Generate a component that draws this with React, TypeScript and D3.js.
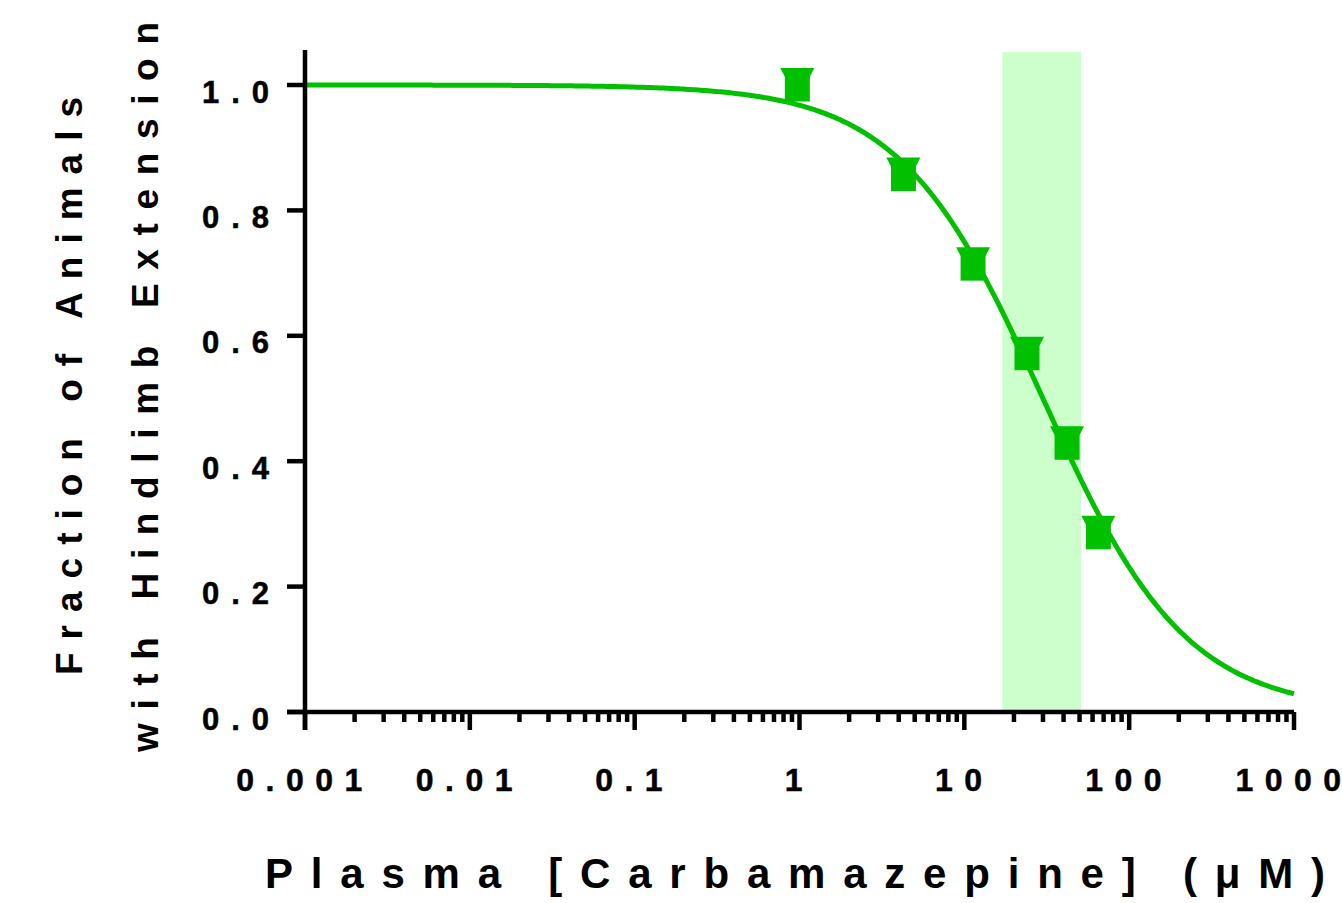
import React from "react";
import * as d3 from "d3";

// Observed fractions of animals showing hindlimb extension at each plasma level (µM)
const plasmaConc = [0.97, 4.27, 11.3, 24, 42, 65];
const fractionExtension = [1.0, 6 / 7, 5 / 7, 4 / 7, 3 / 7, 2 / 7];

// Fitted Hill curve parameters
const fitIC50 = 30;
const fitHill = 1.0;
const fitTop = 1.0;
const fitBottom = 0.0;

// Therapeutic plasma range (µM)
const therapeuticRange = [17, 51];

const xTickValues = [0.001, 0.01, 0.1, 1, 10, 100, 1000];
const xTickLabels = ["0.001", "0.01", "0.1", "1", "10", "100", "1000"];
const yTickValues = [0, 0.2, 0.4, 0.6, 0.8, 1.0];
const yTickLabels = ["0.0", "0.2", "0.4", "0.6", "0.8", "1.0"];

const GREEN = "#00c000";
const BAND = "#ccffcc";
const FONT = "'Liberation Sans', Arial, Helvetica, sans-serif";

// Letter-spaced label without trailing space after the last glyph
function Spaced({ text, spacing }: { text: string; spacing: number }) {
  return (
    <>
      <tspan letterSpacing={spacing}>{text.slice(0, -1)}</tspan>
      <tspan letterSpacing={0}>{text.slice(-1)}</tspan>
    </>
  );
}

export default function App() {
  const width = 1342;
  const height = 903;
  const left = 305;
  const right = 1294;
  const top = 85;
  const bottom = 712;

  const x = d3.scaleLog().domain([0.001, 1000]).range([left, right]);
  const y = d3.scaleLinear().domain([0, 1]).range([bottom, top]);

  const hill = (c: number) =>
    fitBottom + (fitTop - fitBottom) / (1 + Math.pow(c / fitIC50, fitHill));

  const curveX = d3.range(0, 401).map((i) => Math.pow(10, -3 + (6 * i) / 400));
  const line = d3
    .line<number>()
    .x((c) => x(c))
    .y((c) => y(hill(c)))
    .curve(d3.curveLinear);

  const minorTicks: number[] = [];
  for (let e = -3; e < 3; e++) {
    for (let m = 2; m <= 9; m++) minorTicks.push(m * Math.pow(10, e));
  }

  const axisW = 4.5;
  const xSpacing = 11.5;
  const ySpacing = 12;

  return (
    <svg
      width={width}
      height={height}
      style={{ position: "absolute", left: 0, top: 0, background: "#fff" }}
    >
      {/* therapeutic range band */}
      <rect
        x={x(therapeuticRange[0])}
        y={52}
        width={x(therapeuticRange[1]) - x(therapeuticRange[0])}
        height={bottom - 52}
        fill={BAND}
      />

      {/* fitted curve */}
      <path d={line(curveX) || ""} fill="none" stroke={GREEN} strokeWidth={5} />

      {/* data markers: overlapping square and down-triangle */}
      {plasmaConc.map((c, i) => {
        const cx = x(c);
        const cy = y(fractionExtension[i]);
        return (
          <g key={i} fill={GREEN}>
            <rect x={cx - 12.5} y={cy - 8.5} width={25} height={25} />
            <path d={`M${cx - 17},${cy - 17} L${cx + 17},${cy - 17} L${cx},${cy + 16} Z`} />
          </g>
        );
      })}

      {/* y axis */}
      <line x1={left} x2={left} y1={50} y2={bottom + 18} stroke="#000" strokeWidth={axisW} />
      {yTickValues.map((v, i) => (
        <g key={i}>
          <line x1={left - 18} x2={left} y1={y(v)} y2={y(v)} stroke="#000" strokeWidth={axisW} />
          <text
            x={left - 36}
            y={y(v) + 17.5}
            textAnchor="end"
            fontFamily={FONT}
            fontWeight="bold"
            fontSize={31}
            stroke="#000"
            strokeWidth={0.5}
          >
            <Spaced text={yTickLabels[i]} spacing={ySpacing} />
          </text>
        </g>
      ))}

      {/* x axis */}
      <line x1={left - 18} x2={right} y1={bottom} y2={bottom} stroke="#000" strokeWidth={axisW} />
      {minorTicks.map((v, i) => (
        <line
          key={i}
          x1={x(v)}
          x2={x(v)}
          y1={bottom}
          y2={bottom + 10}
          stroke="#000"
          strokeWidth={axisW}
        />
      ))}
      {xTickValues.map((v, i) => (
        <g key={i}>
          <line x1={x(v)} x2={x(v)} y1={bottom} y2={bottom + 18} stroke="#000" strokeWidth={axisW} />
          <text
            x={x(v) - xSpacing / 2}
            y={791}
            textAnchor="middle"
            fontFamily={FONT}
            fontWeight="bold"
            fontSize={32}
            stroke="#000"
            strokeWidth={0.5}
          >
            <Spaced text={xTickLabels[i]} spacing={xSpacing} />
          </text>
        </g>
      ))}

      {/* axis titles */}
      <text
        x={265}
        y={888}
        fontFamily={FONT}
        fontWeight="bold"
        fontSize={42}
        textLength={1060}
        lengthAdjust="spacing"
      >
        Plasma [Carbamazepine] (μM)
      </text>
      <text
        transform="translate(82,675) rotate(-90)"
        fontFamily={FONT}
        fontWeight="bold"
        fontSize={37}
        textLength={578}
        lengthAdjust="spacing"
      >
        Fraction of Animals
      </text>
      <text
        transform="translate(158,752) rotate(-90)"
        fontFamily={FONT}
        fontWeight="bold"
        fontSize={37}
        textLength={730}
        lengthAdjust="spacing"
      >
        with Hindlimb Extension
      </text>
    </svg>
  );
}
